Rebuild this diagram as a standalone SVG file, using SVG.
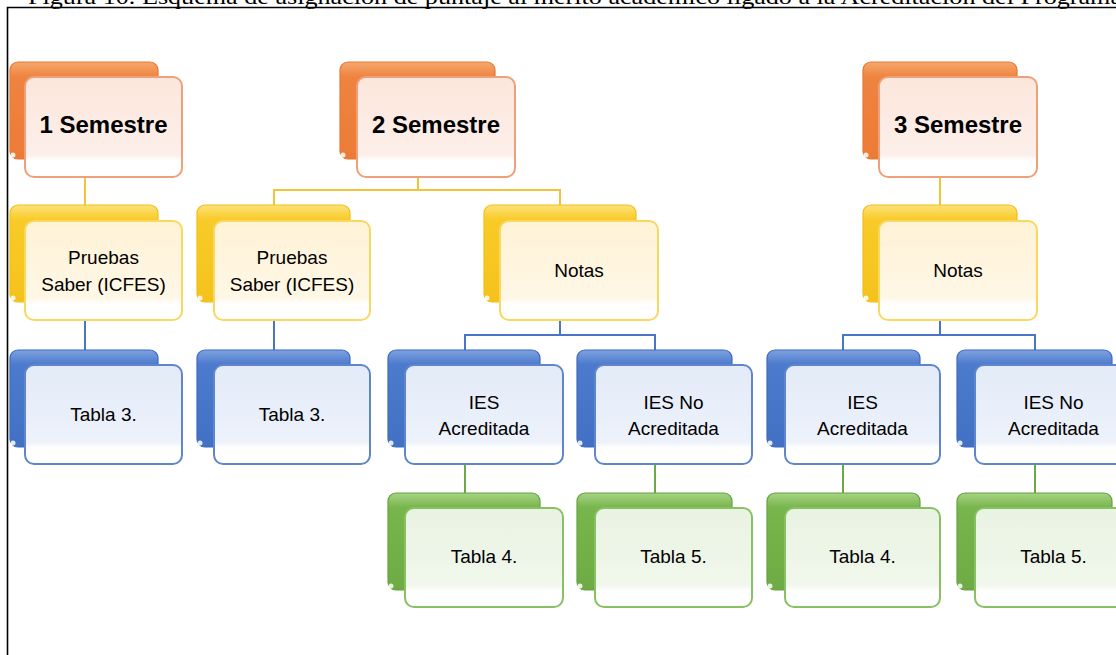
<svg xmlns="http://www.w3.org/2000/svg" width="1116" height="655" viewBox="0 0 1116 655">
<defs>
<linearGradient id="bO" x1="0" y1="0" x2="0" y2="1"><stop offset="0" stop-color="#f6a86e"/><stop offset="0.15" stop-color="#ee8440"/><stop offset="1" stop-color="#ec7b36"/></linearGradient>
<linearGradient id="bY" x1="0" y1="0" x2="0" y2="1"><stop offset="0" stop-color="#fde27a"/><stop offset="0.15" stop-color="#f8cb28"/><stop offset="1" stop-color="#f5c21c"/></linearGradient>
<linearGradient id="bB" x1="0" y1="0" x2="0" y2="1"><stop offset="0" stop-color="#7ea2e0"/><stop offset="0.15" stop-color="#4c7acc"/><stop offset="1" stop-color="#4270c4"/></linearGradient>
<linearGradient id="bG" x1="0" y1="0" x2="0" y2="1"><stop offset="0" stop-color="#a6d384"/><stop offset="0.15" stop-color="#78b54c"/><stop offset="1" stop-color="#6eab44"/></linearGradient>
<linearGradient id="fO" x1="0" y1="0" x2="0" y2="1"><stop offset="0" stop-color="#fce6dc"/><stop offset="0.78" stop-color="#fcefe9"/><stop offset="0.84" stop-color="#ffffff"/><stop offset="1" stop-color="#ffffff"/></linearGradient>
<linearGradient id="fY" x1="0" y1="0" x2="0" y2="1"><stop offset="0" stop-color="#fff3d6"/><stop offset="0.78" stop-color="#fff7e6"/><stop offset="0.84" stop-color="#ffffff"/><stop offset="1" stop-color="#ffffff"/></linearGradient>
<linearGradient id="fB" x1="0" y1="0" x2="0" y2="1"><stop offset="0" stop-color="#e3ebf8"/><stop offset="0.78" stop-color="#edf2fb"/><stop offset="0.84" stop-color="#ffffff"/><stop offset="1" stop-color="#ffffff"/></linearGradient>
<linearGradient id="fG" x1="0" y1="0" x2="0" y2="1"><stop offset="0" stop-color="#e9f3e2"/><stop offset="0.78" stop-color="#f1f7ec"/><stop offset="0.84" stop-color="#ffffff"/><stop offset="1" stop-color="#ffffff"/></linearGradient>
</defs>
<style>
.back{stroke-width:1.2}
.front{stroke-width:2}
.o .back{fill:url(#bO);stroke:#e37a38}
.o .front{fill:url(#fO);stroke:#eea07a}
.y .back{fill:url(#bY);stroke:#f0bf1c}
.y .front{fill:url(#fY);stroke:#f8d860}
.b .back{fill:url(#bB);stroke:#3f6bbd}
.b .front{fill:url(#fB);stroke:#5f86cc}
.g .back{fill:url(#bG);stroke:#66a33e}
.g .front{fill:url(#fG);stroke:#88c064}
.curl{fill:#ffffff;opacity:0.85}
.h{font-family:"Liberation Sans",Arial,sans-serif;font-weight:bold;font-size:24px;fill:#000;text-anchor:middle}
.t{font-family:"Liberation Sans",Arial,sans-serif;font-size:19px;fill:#000;text-anchor:middle}
.cy{stroke:#f2c23a;stroke-width:2;fill:none}
.cb{stroke:#4a74c6;stroke-width:2;fill:none}
.cg{stroke:#6aa944;stroke-width:2;fill:none}
.frame{stroke:#000;stroke-width:1.6;fill:none}
.title{font-family:"Liberation Serif","Times New Roman",serif;font-size:22px;fill:#000}
</style>
<text class="title" x="28" y="4" textLength="1094" lengthAdjust="spacingAndGlyphs">Figura 10. Esquema de asignación de puntaje al mérito académico ligado a la Acreditación del Programa</text>
<path class="frame" d="M7.5,655 V7.5 H1116"/>
<g id="connectors">
<path class="cy" d="M85,177 V205"/>
<path class="cb" d="M85,320 V350"/>
<path class="cy" d="M418,177 V190 M274,205 V190 H560 V205"/>
<path class="cb" d="M274,320 V350"/>
<path class="cb" d="M560,320 V335 M465,350 V335 H655 V350"/>
<path class="cg" d="M465,464 V493 M655,464 V493"/>
<path class="cy" d="M940,177 V205"/>
<path class="cb" d="M940,320 V335 M843,350 V335 H1035 V350"/>
<path class="cg" d="M843,464 V493 M1035,464 V493"/>
</g>
<g id="sem1" class="o"><rect class="back" x="10" y="62" width="148" height="97" rx="8"/><circle class="curl" cx="13" cy="155" r="2.5"/><rect class="front" x="25" y="77" width="157" height="100" rx="9"/><text class="h" x="103.5" y="133">1 Semestre</text></g>
<g id="pruebas1" class="y"><rect class="back" x="10" y="205" width="148" height="97" rx="8"/><circle class="curl" cx="13" cy="298" r="2.5"/><rect class="front" x="25" y="221" width="157" height="99" rx="9"/><text class="t" x="103.5" y="264">Pruebas</text><text class="t" x="103.5" y="291">Saber (ICFES)</text></g>
<g id="tabla3a" class="b"><rect class="back" x="10" y="350" width="148" height="97" rx="8"/><circle class="curl" cx="13" cy="443" r="2.5"/><rect class="front" x="25" y="365" width="157" height="99" rx="9"/><text class="t" x="103.5" y="421">Tabla 3.</text></g>
<g id="sem2" class="o"><rect class="back" x="340" y="62" width="155" height="97" rx="8"/><circle class="curl" cx="343" cy="155" r="2.5"/><rect class="front" x="357" y="77" width="158" height="100" rx="9"/><text class="h" x="436" y="133">2 Semestre</text></g>
<g id="pruebas2" class="y"><rect class="back" x="197" y="205" width="153" height="97" rx="8"/><circle class="curl" cx="200" cy="298" r="2.5"/><rect class="front" x="214" y="221" width="156" height="99" rx="9"/><text class="t" x="292" y="264">Pruebas</text><text class="t" x="292" y="291">Saber (ICFES)</text></g>
<g id="tabla3b" class="b"><rect class="back" x="197" y="350" width="153" height="97" rx="8"/><circle class="curl" cx="200" cy="443" r="2.5"/><rect class="front" x="214" y="365" width="156" height="99" rx="9"/><text class="t" x="292" y="421">Tabla 3.</text></g>
<g id="notas2" class="y"><rect class="back" x="484" y="205" width="152" height="97" rx="8"/><circle class="curl" cx="487" cy="298" r="2.5"/><rect class="front" x="500" y="221" width="158" height="99" rx="9"/><text class="t" x="579" y="277">Notas</text></g>
<g id="iesA2" class="b"><rect class="back" x="388" y="350" width="152" height="97" rx="8"/><circle class="curl" cx="391" cy="443" r="2.5"/><rect class="front" x="405" y="365" width="158" height="99" rx="9"/><text class="t" x="484" y="409">IES</text><text class="t" x="484" y="435">Acreditada</text></g>
<g id="iesN2" class="b"><rect class="back" x="577" y="350" width="155" height="97" rx="8"/><circle class="curl" cx="580" cy="443" r="2.5"/><rect class="front" x="595" y="365" width="157" height="99" rx="9"/><text class="t" x="673.5" y="409">IES No</text><text class="t" x="673.5" y="435">Acreditada</text></g>
<g id="tabla4a" class="g"><rect class="back" x="388" y="493" width="152" height="97" rx="8"/><circle class="curl" cx="391" cy="586" r="2.5"/><rect class="front" x="405" y="508" width="158" height="99" rx="9"/><text class="t" x="484" y="563">Tabla 4.</text></g>
<g id="tabla5a" class="g"><rect class="back" x="577" y="493" width="155" height="97" rx="8"/><circle class="curl" cx="580" cy="586" r="2.5"/><rect class="front" x="595" y="508" width="157" height="99" rx="9"/><text class="t" x="673.5" y="563">Tabla 5.</text></g>
<g id="sem3" class="o"><rect class="back" x="863" y="62" width="154" height="97" rx="8"/><circle class="curl" cx="866" cy="155" r="2.5"/><rect class="front" x="879" y="77" width="158" height="100" rx="9"/><text class="h" x="958" y="133">3 Semestre</text></g>
<g id="notas3" class="y"><rect class="back" x="863" y="205" width="154" height="97" rx="8"/><circle class="curl" cx="866" cy="298" r="2.5"/><rect class="front" x="879" y="221" width="158" height="99" rx="9"/><text class="t" x="958" y="277">Notas</text></g>
<g id="iesA3" class="b"><rect class="back" x="767" y="350" width="153" height="97" rx="8"/><circle class="curl" cx="770" cy="443" r="2.5"/><rect class="front" x="785" y="365" width="155" height="99" rx="9"/><text class="t" x="862.5" y="409">IES</text><text class="t" x="862.5" y="435">Acreditada</text></g>
<g id="iesN3" class="b"><rect class="back" x="957" y="350" width="155" height="97" rx="8"/><circle class="curl" cx="960" cy="443" r="2.5"/><rect class="front" x="975" y="365" width="157" height="99" rx="9"/><text class="t" x="1053.5" y="409">IES No</text><text class="t" x="1053.5" y="435">Acreditada</text></g>
<g id="tabla4b" class="g"><rect class="back" x="767" y="493" width="153" height="97" rx="8"/><circle class="curl" cx="770" cy="586" r="2.5"/><rect class="front" x="785" y="508" width="155" height="99" rx="9"/><text class="t" x="862.5" y="563">Tabla 4.</text></g>
<g id="tabla5b" class="g"><rect class="back" x="957" y="493" width="155" height="97" rx="8"/><circle class="curl" cx="960" cy="586" r="2.5"/><rect class="front" x="975" y="508" width="157" height="99" rx="9"/><text class="t" x="1053.5" y="563">Tabla 5.</text></g>
</svg>
